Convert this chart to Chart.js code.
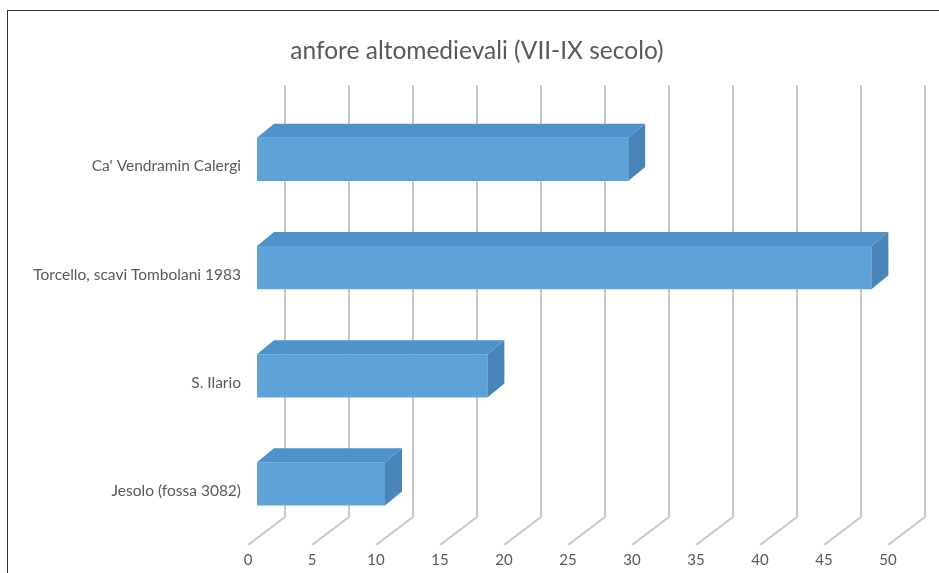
<!DOCTYPE html>
<html>
<head>
<meta charset="utf-8">
<script src="https://cdn.jsdelivr.net/npm/chart.js@4"></script>
<style>
  html, body { margin: 0; padding: 0; background: #fff; overflow: hidden; }
  #wrap { position: relative; width: 939px; height: 573px; }
  #frame { position: absolute; left: 7px; top: 10px; width: 940px; height: 580px;
           border-left: 1.5px solid #333; border-top: 1.5px solid #333; pointer-events: none; }
</style>
</head>
<body>
<div id="wrap">
  <canvas id="chart" width="939" height="573"></canvas>
  <div id="frame"></div>
</div>
<script>
// Data
const sites = ['Ca\' Vendramin Calergi', 'Torcello, scavi Tombolani 1983', 'S. Ilario', 'Jesolo (fossa 3082)'];
const amphorae = [29, 48, 18, 10];
const axisMin = 0;
const axisMax = 50;
const axisStep = 5;

const textColor = '#595959';
const frontColor = '#5da3d9';
const topColor = '#4e92cc';
const sideColor = '#4a85ba';

// 3D look: back wall grid + floor diagonals
const gridPlugin = {
  id: 'grid3d',
  beforeDatasetsDraw(chart) {
    const { ctx, chartArea, scales } = chart;
    const xs = scales.x;
    const top = chartArea.top - 20.5;
    const floorBack = chartArea.bottom - 21;
    const floorFront = chartArea.bottom + 7;
    ctx.save();
    ctx.strokeStyle = '#c8c8c8';
    ctx.lineWidth = 2;
    xs.ticks.forEach(t => {
      const px = xs.getPixelForValue(t.value);
      ctx.beginPath();
      ctx.moveTo(px + 28, top);
      ctx.lineTo(px + 28, floorBack);
      ctx.lineTo(px - 9, floorFront);
      ctx.stroke();
    });
    ctx.restore();
  }
};

// top and side faces of each bar
const boxPlugin = {
  id: 'box3d',
  afterDatasetsDraw(chart) {
    const { ctx } = chart;
    const dx = 17, dy = 14;
    chart.getDatasetMeta(0).data.forEach(bar => {
      const p = bar.getProps(['x', 'y', 'base', 'height'], true);
      const t = p.y - p.height / 2;
      const b = p.y + p.height / 2;
      ctx.save();
      ctx.fillStyle = topColor;
      ctx.beginPath();
      ctx.moveTo(p.base, t);
      ctx.lineTo(p.base + dx, t - dy);
      ctx.lineTo(p.x + dx, t - dy);
      ctx.lineTo(p.x, t);
      ctx.closePath();
      ctx.fill();
      ctx.fillStyle = sideColor;
      ctx.beginPath();
      ctx.moveTo(p.x, t);
      ctx.lineTo(p.x + dx, t - dy);
      ctx.lineTo(p.x + dx, b - dy);
      ctx.lineTo(p.x, b);
      ctx.closePath();
      ctx.fill();
      ctx.restore();
    });
  }
};

new Chart(document.getElementById('chart'), {
  type: 'bar',
  data: {
    labels: sites,
    datasets: [{
      label: 'anfore',
      data: amphorae,
      backgroundColor: frontColor,
      borderWidth: 0,
      categoryPercentage: 1,
      barPercentage: 0.4
    }]
  },
  options: {
    indexAxis: 'y',
    responsive: false,
    animation: false,
    devicePixelRatio: 1,
    layout: { padding: { left: 15, right: 0, top: 0, bottom: 0 } },
    plugins: {
      legend: { display: false },
      tooltip: { enabled: false },
      title: {
        display: true,
        text: 'anfore altomedievali (VII-IX secolo)',
        color: textColor,
        font: { family: 'Lato', size: 24.5, weight: 'normal' },
        padding: { top: 36, bottom: 40 }
      }
    },
    scales: {
      x: {
        type: 'linear',
        min: axisMin,
        max: axisMax,
        grid: { display: false, drawTicks: false },
        border: { display: false },
        ticks: {
          stepSize: axisStep,
          color: textColor,
          padding: 13,
          labelOffset: -9,
          font: { family: 'Lato', size: 15 }
        },
        afterFit(scale) { scale.height = 35; }
      },
      y: {
        grid: { display: false, drawTicks: false },
        border: { display: false },
        ticks: {
          color: textColor,
          padding: 16,
          labelOffset: 7,
          font: { family: 'Lato', size: 15.5 }
        },
        afterFit(scale) { scale.width = 242; }
      },
      // empty spacer on the right so the plot ends where the reference does
      spacer: {
        type: 'linear',
        position: 'right',
        grid: { display: false, drawTicks: false },
        border: { display: false },
        ticks: { display: false },
        afterFit(scale) { scale.width = 42; }
      }
    }
  },
  plugins: [gridPlugin, boxPlugin]
});
</script>
</body>
</html>
